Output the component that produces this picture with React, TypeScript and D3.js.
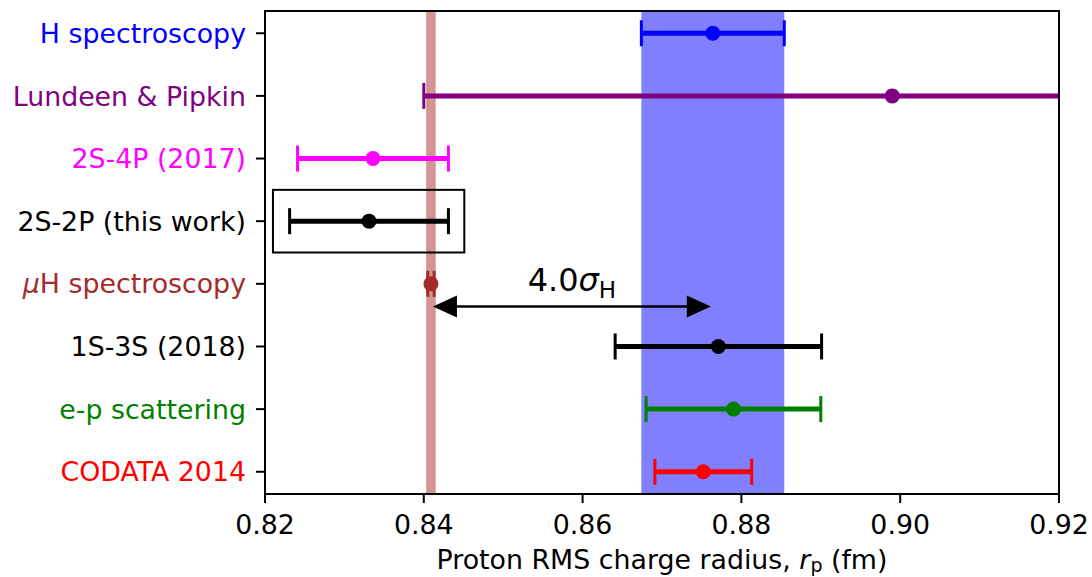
import React from "react";
import * as d3 from "d3";

// measurements, top row first
const labels = [
  "H spectroscopy",
  "Lundeen & Pipkin",
  "2S-4P (2017)",
  "2S-2P (this work)",
  "μH spectroscopy",
  "1S-3S (2018)",
  "e-p scattering",
  "CODATA 2014",
];
const values = [0.8764, 0.899, 0.8336, 0.8331, 0.8409, 0.8771, 0.879, 0.8752];
const errors = [0.009, 0.059, 0.0095, 0.01, 0.0004, 0.013, 0.011, 0.0061];
const colors = ["blue", "purple", "magenta", "black", "brown", "black", "green", "red"];

const xTicks = [0.82, 0.84, 0.86, 0.88, 0.9, 0.92];

// shaded bands
const hBand = [0.8674, 0.8854];
const muBand = [0.8403, 0.8415];

// box around "this work"
const boxX = [0.821, 0.8451];
const boxRow = 3;

const W = 1092;
const H = 577;
const margin = { top: 11, right: 33, bottom: 83, left: 265 };
const font = "DejaVu Sans, sans-serif";
const fs = 26.8;

export default function App() {
  const x = d3
    .scaleLinear()
    .domain([0.82, 0.92])
    .range([margin.left, W - margin.right]);
  const y = d3
    .scaleLinear()
    .domain([-0.355, labels.length - 1 + 0.355])
    .range([margin.top, H - margin.bottom]);

  const x0 = margin.left;
  const x1 = W - margin.right;
  const y0 = margin.top;
  const y1 = H - margin.bottom;

  // arrow between muH and H spectroscopy
  const arrowY = y(4.36);
  const ax0 = x(values[4]) + 2;
  const ax1 = x(values[0]) - 2;
  const headL = 24;
  const headW = 11;

  const cap = 13;

  return (
    <svg
      width={W}
      height={H}
      style={{ position: "absolute", left: 0, top: 0, background: "white" }}
      fontFamily={font}
    >
      <defs>
        <clipPath id="plot">
          <rect x={x0} y={y0} width={x1 - x0} height={y1 - y0} />
        </clipPath>
      </defs>

      <g clipPath="url(#plot)">
        <rect
          x={x(hBand[0])}
          y={y0}
          width={x(hBand[1]) - x(hBand[0])}
          height={y1 - y0}
          fill="blue"
          opacity={0.5}
        />
        <rect
          x={x(muBand[0])}
          y={y0}
          width={x(muBand[1]) - x(muBand[0])}
          height={y1 - y0}
          fill="brown"
          opacity={0.5}
        />

        {values.map((v, i) => {
          const lo = x(v - errors[i]);
          const hi = x(v + errors[i]);
          const cy = y(i);
          return (
            <g key={i} stroke={colors[i]} fill={colors[i]}>
              <line x1={lo} x2={hi} y1={cy} y2={cy} strokeWidth={5} />
              <line x1={lo} x2={lo} y1={cy - cap} y2={cy + cap} strokeWidth={3} />
              <line x1={hi} x2={hi} y1={cy - cap} y2={cy + cap} strokeWidth={3} />
              <circle cx={x(v)} cy={cy} r={7.5} stroke="none" />
            </g>
          );
        })}

        <rect
          x={x(boxX[0])}
          y={y(boxRow - 0.5)}
          width={x(boxX[1]) - x(boxX[0])}
          height={y(boxRow + 0.5) - y(boxRow - 0.5)}
          fill="none"
          stroke="black"
          strokeWidth={2}
        />

        <line
          x1={ax0 + headL - 2}
          x2={ax1 - headL + 2}
          y1={arrowY}
          y2={arrowY}
          stroke="black"
          strokeWidth={2.5}
        />
        <path
          d={`M${ax0},${arrowY} L${ax0 + headL},${arrowY - headW} L${ax0 + headL},${arrowY + headW} Z`}
          fill="black"
        />
        <path
          d={`M${ax1},${arrowY} L${ax1 - headL},${arrowY - headW} L${ax1 - headL},${arrowY + headW} Z`}
          fill="black"
        />
      </g>

      <text x={(ax0 + ax1) / 2} y={arrowY - 15} fontSize={32} textAnchor="middle">
        4.0
        <tspan fontStyle="italic">σ</tspan>
        <tspan fontSize={23} dy={7}>H</tspan>
      </text>

      {/* spines */}
      <rect x={x0} y={y0} width={x1 - x0} height={y1 - y0} fill="none" stroke="black" strokeWidth={2} />

      {/* y ticks and labels */}
      {labels.map((l, i) => (
        <g key={l}>
          <line x1={x0 - 9} x2={x0} y1={y(i)} y2={y(i)} stroke="black" strokeWidth={2} />
          <text
            x={x0 - 19}
            y={y(i)}
            dy="0.36em"
            fontSize={fs}
            textAnchor="end"
            fill={colors[i]}
          >
            {l.startsWith("μ") ? (
              <>
                <tspan fontStyle="italic">μ</tspan>
                {l.slice(1)}
              </>
            ) : (
              l
            )}
          </text>
        </g>
      ))}

      {/* x ticks and labels */}
      {xTicks.map((t) => (
        <g key={t}>
          <line x1={x(t)} x2={x(t)} y1={y1} y2={y1 + 9} stroke="black" strokeWidth={2} />
          <text x={x(t)} y={y1 + 40} fontSize={fs} textAnchor="middle">
            {d3.format(".2f")(t)}
          </text>
        </g>
      ))}

      <text x={(x0 + x1) / 2} y={569} fontSize={fs} textAnchor="middle">
        Proton RMS charge radius,{" "}
        <tspan fontStyle="italic">r</tspan>
        <tspan fontSize={19} dy={3}>p</tspan>
        <tspan dy={-3}> (fm)</tspan>
      </text>
    </svg>
  );
}
